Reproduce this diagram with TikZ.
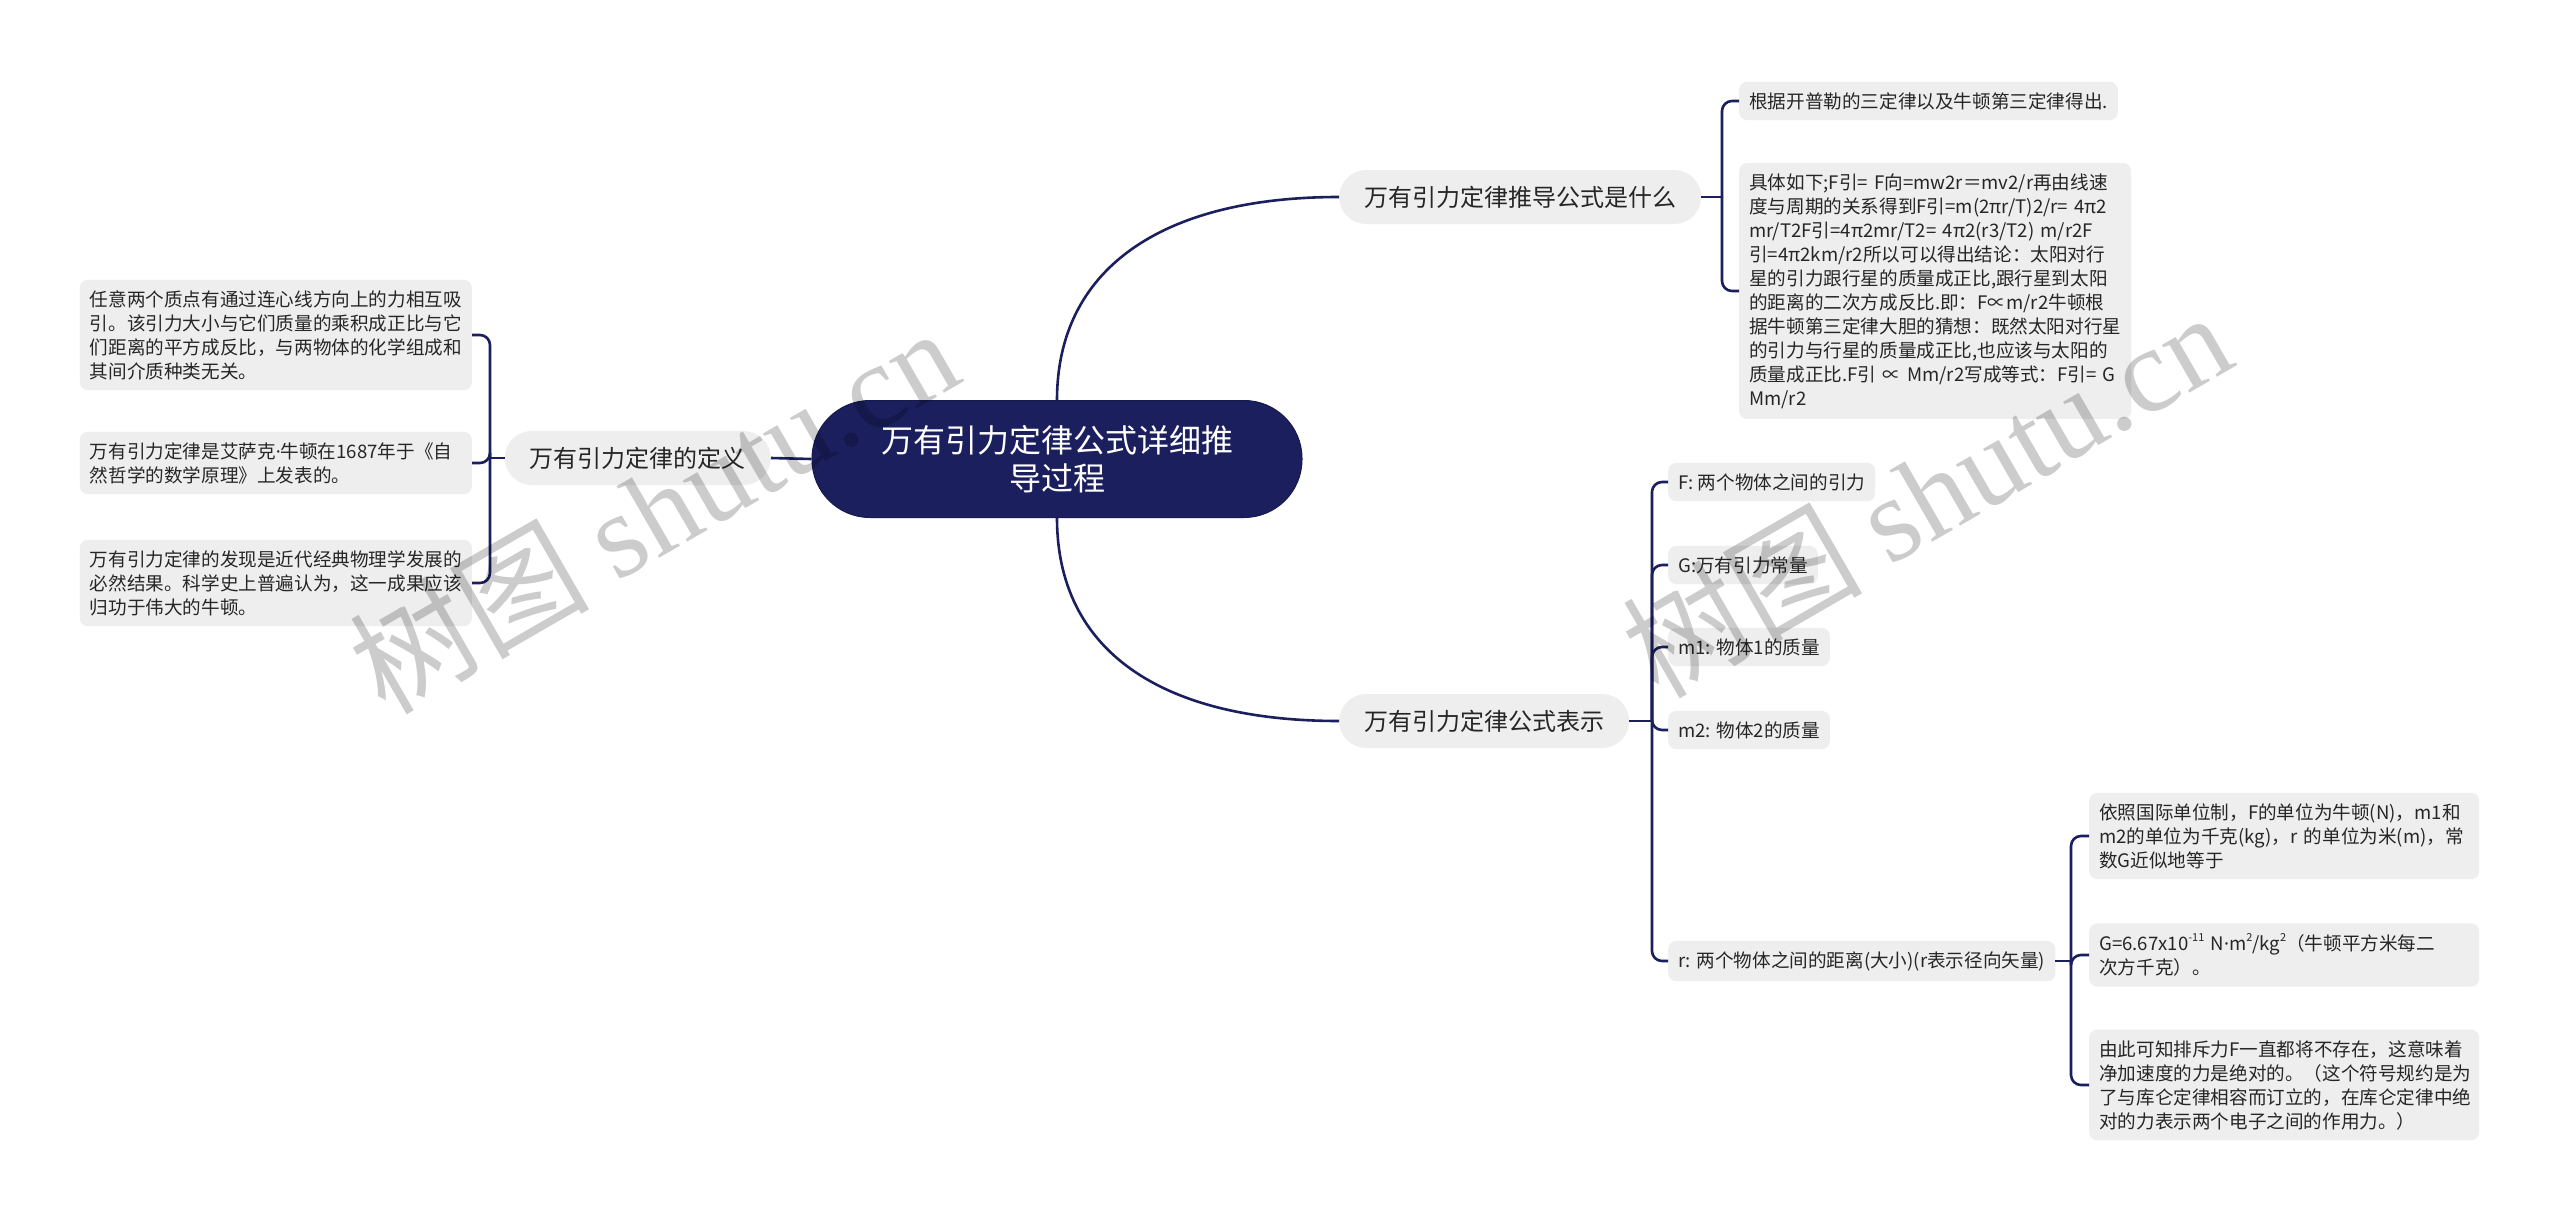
\documentclass[tikz,border=0pt]{standalone}
\usepackage{fontspec}
\setmainfont{Noto Sans CJK SC}
\newfontfamily\wmlatin{Liberation Serif}
\newfontfamily\latinsans{Noto Sans}
\definecolor{navy}{RGB}{27,31,94}
\definecolor{boxgray}{RGB}{238,238,238}
\definecolor{inkgray}{RGB}{38,38,38}
\newcommand{\upnum}[1]{\raisebox{0.45em}{\fontsize{11}{11}\selectfont #1}}
\newcommand{\middot}{{\latinsans ·}}

\begin{document}
\begin{tikzpicture}[x=1pt, y=-1pt,
    rootnode/.style={fill=navy, draw=navy!80!black, line width=1pt, text=white, rounded corners=58,
        minimum width=490, minimum height=117, align=center, font=\fontsize{32}{38}\selectfont},
    branch/.style={fill=boxgray, rounded corners=27, minimum height=54, inner xsep=25,
        text=inkgray, font=\fontsize{24}{28}\selectfont},
    leaf/.style={fill=boxgray, rounded corners=8, inner xsep=10, inner ysep=10.5, align=left,
        text=inkgray, font=\fontsize{18.6}{24}\selectfont},
    link/.style={draw=navy, line width=2.6pt},
    watermark/.style={rotate=30, text=black, opacity=0.2, font=\fontsize{120}{120}\selectfont}]

    % Canvas
    \fill[white] (0,0) rectangle (2560,1223);
    \useasboundingbox (0,0) rectangle (2560,1223);

    % Centre topic
    \node[rootnode] (root) at (1057,459) {万有引力定律公式详细推\\导过程};

    % Main branches
    \node[branch, anchor=east] (defn) at (771,458) {万有引力定律的定义};
    \node[branch, anchor=west] (derive) at (1339,197) {万有引力定律推导公式是什么};
    \node[branch, anchor=west] (formula) at (1339,721) {万有引力定律公式表示};

    \draw[link] (root.west) -- (defn.east);
    \draw[link] (root.north) .. controls (1057,270) and (1160,197) .. (derive.west);
    \draw[link] (root.south) .. controls (1057,650) and (1160,721) .. (formula.west);

    % Left: definition
    \coordinate (jdef) at (490,458);
    \node[leaf, anchor=east, text width=372] (def1) at (472,335)
        {任意两个质点有通过连心线方向上的力相互吸\\引。该引力大小与它们质量的乘积成正比与它\\们距离的平方成反比，与两物体的化学组成和\\其间介质种类无关。};
    \node[leaf, anchor=east, text width=372] (def2) at (472,463)
        {万有引力定律是艾萨克\middot 牛顿在1687年于《自\\然哲学的数学原理》上发表的。};
    \node[leaf, anchor=east, text width=372] (def3) at (472,583)
        {万有引力定律的发现是近代经典物理学发展的\\必然结果。科学史上普遍认为，这一成果应该\\归功于伟大的牛顿。};
    \draw[link] (defn.west) -- (jdef);
    \foreach \n in {def1, def2, def3}
        \draw[link, rounded corners=10] (jdef) |- (\n.east);

    % Upper right: derivation
    \coordinate (jder) at (1722,197);
    \node[leaf, anchor=west] (der1) at (1739,101) {根据开普勒的三定律以及牛顿第三定律得出.};
    \node[leaf, anchor=west, text width=372] (der2) at (1739,291)
        {具体如下;F引=~F向=mw2r＝mv2/r再由线速\\
         度与周期的关系得到F引=m(2πr/T)2/r=~4π2\\
         mr/T2F引=4π2mr/T2=~4π2(r3/T2)~m/r2F\\
         引=4π2km/r2所以可以得出结论：太阳对行\\
         星的引力跟行星的质量成正比,跟行星到太阳\\
         的距离的二次方成反比.即：F∝m/r2牛顿根\\
         据牛顿第三定律大胆的猜想：既然太阳对行星\\
         的引力与行星的质量成正比,也应该与太阳的\\
         质量成正比.F引~∝~Mm/r2写成等式：F引=~G\\
         Mm/r2};
    \draw[link] (derive.east) -- (jder);
    \foreach \n in {der1, der2}
        \draw[link, rounded corners=10] (jder) |- (\n.west);

    % Lower right: symbols
    \coordinate (jfor) at (1652,721);
    \draw[link] (formula.east) -- (jfor);
    \foreach \n/\y/\txt in {symF/482/{F: 两个物体之间的引力}, symG/565/{G:万有引力常量},
            symA/647/{m1: 物体1的质量}, symB/730/{m2: 物体2的质量},
            symR/961/{r: 两个物体之间的距离(大小)(r表示径向矢量)}} {
        \node[leaf, anchor=west] (\n) at (1668,\y) {\txt};
        \draw[link, rounded corners=10] (jfor) |- (\n.west);
    }

    % Far right: units
    \coordinate (junit) at (2071,961);
    \node[leaf, anchor=west, text width=370] (unit1) at (2089,836)
        {依照国际单位制，F的单位为牛顿(N)，m1和\\m2的单位为千克(kg)，r~的单位为米(m)，常\\数G近似地等于};
    \node[leaf, anchor=west, text width=370] (unit2) at (2089,955)
        {G=6.67x10\upnum{-11}~N\middot m\upnum{2}/kg\upnum{2}（牛顿平方米每二\\次方千克）。};
    \node[leaf, anchor=west, text width=370] (unit3) at (2089,1085)
        {由此可知排斥力F一直都将不存在，这意味着\\净加速度的力是绝对的。（这个符号规约是为\\了与库仑定律相容而订立的，在库仑定律中绝\\对的力表示两个电子之间的作用力。）};
    \draw[link] (symR.east) -- (junit);
    \foreach \n in {unit1, unit2, unit3}
        \draw[link, rounded corners=10] (junit) |- (\n.west);

    % Watermarks
    \node[watermark] (wm1) at (653,509) {树图 {\wmlatin shutu.cn}};
    \node[watermark] (wm2) at (1926,493) {树图 {\wmlatin shutu.cn}};
\end{tikzpicture}
\end{document}
